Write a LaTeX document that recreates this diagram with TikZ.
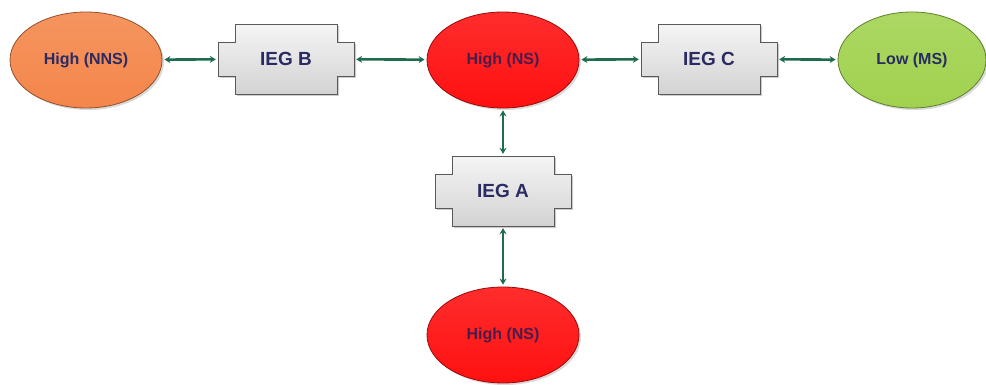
\documentclass[tikz,border=0pt]{standalone}
\usepackage{fontspec}
\setmainfont{Liberation Sans}
\usetikzlibrary{shapes.geometric,arrows.meta,shadows}

\definecolor{nnsorange}{HTML}{F4864A}
\definecolor{nsred}{HTML}{FF1010}
\definecolor{msgreen}{HTML}{A0D24E}
\definecolor{linkgreen}{HTML}{1E6B4E}
\definecolor{labelnavy}{HTML}{2A2B62}
\definecolor{labelred}{HTML}{4A1C4C}

\begin{document}
\begin{tikzpicture}[x=1pt,y=-1pt,
  level/.style={ellipse, draw=#1!60!black, line width=0.8pt,
    top color=#1!88!white, bottom color=#1, minimum width=152pt,
    minimum height=96pt, inner sep=0pt, text=labelnavy,
    font=\bfseries\fontsize{16}{18}\selectfont,
    drop shadow={opacity=0.3, shadow xshift=2pt, shadow yshift=-2pt}},
  iegshape/.style={draw=gray!70!black, line width=0.6pt,
    top color=gray!8, bottom color=gray!35,
    drop shadow={opacity=0.4, shadow xshift=2pt, shadow yshift=-2pt}},
  ieg/.style={rectangle, minimum width=136pt, minimum height=70pt,
    inner sep=0pt, text=labelnavy, font=\bfseries\fontsize{19}{22}\selectfont},
  link/.style={<->, draw=linkgreen, line width=2.6pt,
    >={Stealth[length=6pt,width=7pt]}, shorten <=2pt, shorten >=2pt}]

\useasboundingbox (0,0) rectangle (986,385);

\coordinate (cNNS) at (86,60);
\coordinate (cNS) at (503,60);
\coordinate (cMS) at (912,60);
\coordinate (cNSb) at (503,335);
\coordinate (cB) at (286,59);
\coordinate (cC) at (709,59);
\coordinate (cA) at (503,191);

\foreach \g in {cB,cC,cA}
  \draw [iegshape, shift={(\g)}]
  (-51,-35)--(51,-35)--(51,-17)--(68,-17)--(68,17)--(51,17)--(51,35)
  --(-51,35)--(-51,17)--(-68,17)--(-68,-17)--(-51,-17)--cycle;

\node [level=nnsorange] (nns) at (cNNS) {High (NNS)};
\node [level=nsred, text=labelred] (ns) at (cNS) {High (NS)};
\node [level=msgreen, minimum width=148pt] (ms) at (cMS) {Low (MS)};
\node [level=nsred, text=labelred] (nsb) at (cNSb) {High (NS)};

\node [ieg] (iegB) at (cB) {IEG B};
\node [ieg] (iegC) at (cC) {IEG C};
\node [ieg] (iegA) at (cA) {IEG A};

\draw [link] (nns) -- (iegB);
\draw [link] (iegB) -- (ns);
\draw [link] (ns) -- (iegC);
\draw [link] (iegC) -- (ms);
\draw [link] (ns) -- (iegA);
\draw [link] (iegA) -- (nsb);

\end{tikzpicture}
\end{document}
